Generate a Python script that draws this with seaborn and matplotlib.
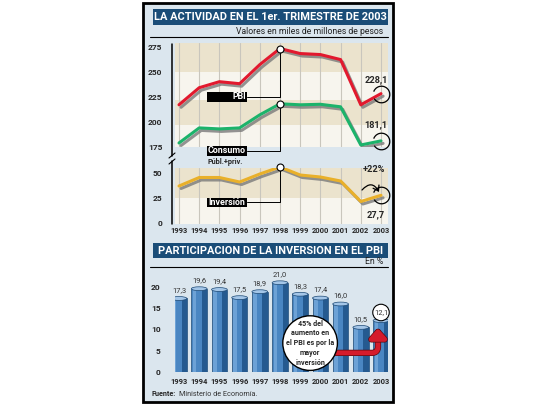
import matplotlib
matplotlib.use('Agg')
import matplotlib.pyplot as plt
import matplotlib.patheffects as pe
from matplotlib.patches import Rectangle, Ellipse
from matplotlib.path import Path
import seaborn as sns
import pandas as pd

# datos
anios = list(range(1993, 2004))
pbi = [217, 234, 240, 238, 257, 273, 268, 267, 262, 217, 228.1]
consumo = [179, 194, 193, 194, 207, 218, 217, 217.5, 215, 177, 181.1]
inversion = [37, 45.5, 45.5, 41, 49, 56, 48, 46, 42, 21.5, 27.7]
participacion = [17.3, 19.6, 19.4, 17.5, 18.9, 21.0, 18.3, 17.4, 16.0, 10.5, 12.1]

sns.set_theme(style='white')
plt.rcParams['font.family'] = ['Roboto', 'DejaVu Sans']

df = pd.DataFrame({'anio': anios, 'PBI': pbi, 'Consumo': consumo, 'Inversion': inversion})
df_bar = pd.DataFrame({'anio': [str(a) for a in anios], 'part': participacion})

ROJO = '#e2192e'
VERDE = '#1cb36b'
AMARILLO = '#e9b02a'
AZUL_T = '#1a4d78'
BEIGE = '#ebe3cd'
BLANCO = '#f7f5ee'

W, H = 540, 405
fig = plt.figure(figsize=(5.4, 4.05), dpi=100, facecolor='white')


def px_axes(x0, y0, x1, y1, z):
    ax = fig.add_axes([x0 / W, 1 - y1 / H, (x1 - x0) / W, (y1 - y0) / H])
    ax.set_zorder(z)
    return ax


bg = px_axes(0, 0, W, H, 0)
bg.set_xlim(0, W)
bg.set_ylim(H, 0)
bg.axis('off')

bg.add_patch(Rectangle((143, 3), 250, 399, fc='#dbe6ee', ec='black', lw=2))
bg.add_patch(Rectangle((153, 9), 235, 16, fc=AZUL_T, ec='none'))
bg.text(270.5, 17.5, 'LA ACTIVIDAD EN EL 1er. TRIMESTRE DE 2003', color='white',
        fontsize=7.9, fontweight='bold', ha='center', va='center')
bg.text(383, 31, 'Valores en miles de millones de pesos', fontsize=6.2, ha='right', va='center', color='#222')
bg.plot([150, 388], [37, 37], color='black', lw=0.8)

bg.add_patch(Rectangle((153, 243), 235, 15, fc=AZUL_T, ec='none'))
bg.text(270.5, 250.5, 'PARTICIPACION DE LA INVERSION EN EL PBI', color='white',
        fontsize=7.9, fontweight='bold', ha='center', va='center')
bg.text(383, 262, 'En %', fontsize=6.2, ha='right', va='center', color='#222')
bg.plot([150, 388], [267, 267], color='black', lw=0.8)
fuente = bg.text(152, 394, 'Fuente:', fontsize=5.2, fontweight='bold', ha='left', va='center')
bg.annotate('Ministerio de Economía.', xy=(1, 0.5), xycoords=fuente, xytext=(2, 0),
            textcoords='offset points', fontsize=5.2, ha='left', va='center', color='#333')

# eje vertical con corte
bg.plot([172, 172], [44, 156], color='black', lw=1.1)
bg.plot([172, 172], [161, 224], color='black', lw=1.1)
bg.plot([169, 175], [158, 153], color='black', lw=0.8)
bg.plot([169, 175], [164, 159], color='black', lw=0.8)

XL = (1993 - 4 / 20.2, 2003 + 7 / 20.2)
sombra = [pe.SimpleLineShadow(offset=(1.5, -1.8), shadow_color='#7a7a7a', alpha=0.8), pe.Normal()]

# ---- panel superior: PBI y consumo
ax_top = px_axes(175, 43, 388, 147, 2)
ax_top.set_facecolor(BLANCO)
ax_top.axhspan(250, 280, color=BEIGE, lw=0, zorder=0)
ax_top.axhspan(197, 222, color=BEIGE, lw=0, zorder=0)
sns.lineplot(data=df, x='anio', y='PBI', ax=ax_top, color=ROJO, lw=2.2, path_effects=sombra)
sns.lineplot(data=df, x='anio', y='Consumo', ax=ax_top, color=VERDE, lw=2.2, path_effects=sombra)
ax_top.set_xlim(*XL)
ax_top.set_ylim(175, 278.5)
ax_top.set_xticks(anios)
ax_top.set_xticklabels([])
ax_top.set_yticks([175, 200, 225, 250, 275])
ax_top.grid(axis='x', color='#c9c6bd', lw=0.8)
ax_top.tick_params(axis='both', length=0, labelsize=6, pad=9)
for t in ax_top.get_yticklabels():
    t.set_fontweight('bold')
for s in ax_top.spines.values():
    s.set_visible(False)
ax_top.set_xlabel('')
ax_top.set_ylabel('')

i98 = anios.index(1998)
for serie, ly, txt in [(pbi, 224.8, 'PBI'), (consumo, 171.3, 'Consumo')]:
    ax_top.plot([1996.37, 1998, 1998], [ly, ly, serie[i98]], color='black', lw=0.7, clip_on=False, zorder=5)
    ax_top.plot([1998], [serie[i98]], 'o', ms=5, mfc='white', mec='black', mew=0.8, zorder=7, clip_on=False)
    ax_top.add_patch(Rectangle((1994.39, ly - 4.8), 1.98, 9.6, fc='black', ec='none', clip_on=False, zorder=6))
    ax_top.text(1996.3, ly, txt, color='white', fontsize=6.4, fontweight='bold', ha='right', va='center',
                zorder=8, clip_on=False)
ax_top.text(1994.42, 160.3, 'Públ.+priv.', fontsize=5.2, fontweight='bold', ha='left', va='center', clip_on=False)

arco = Path.arc(-150, 160)
ax_top.plot([2003], [pbi[-1]], marker=arco, ms=12, mfc='none', mec='black', mew=0.9, clip_on=False, zorder=7)
ax_top.plot([2003], [consumo[-1]], marker=arco, ms=12, mfc='none', mec='black', mew=0.9, clip_on=False, zorder=7)
ax_top.text(2002.75, 241.7, '228,1', fontsize=6.6, fontweight='bold', ha='center', va='center')
ax_top.text(2002.75, 197.6, '181,1', fontsize=6.6, fontweight='bold', ha='center', va='center')

# ---- panel inferior: inversion
ax_inv = px_axes(175, 168, 388, 224, 2)
ax_inv.set_facecolor(BLANCO)
ax_inv.axhspan(25, 56, color=BEIGE, lw=0, zorder=0)
sns.lineplot(data=df, x='anio', y='Inversion', ax=ax_inv, color=AMARILLO, lw=2.2, path_effects=sombra)
ax_inv.set_xlim(*XL)
ax_inv.set_ylim(-1, 55)
ax_inv.set_xticks(anios)
ax_inv.set_xticklabels([str(a) for a in anios])
ax_inv.set_yticks([0, 25, 50])
ax_inv.grid(axis='x', color='#c9c6bd', lw=0.8)
ax_inv.tick_params(axis='y', length=0, labelsize=6, pad=9)
ax_inv.tick_params(axis='x', length=0, labelsize=5.4, pad=2)
for t in ax_inv.get_yticklabels() + ax_inv.get_xticklabels():
    t.set_fontweight('bold')
for s in ax_inv.spines.values():
    s.set_visible(False)
ax_inv.set_xlabel('')
ax_inv.set_ylabel('')

ax_inv.plot([1996.37, 1998, 1998], [20.5, 20.5, inversion[i98]], color='black', lw=0.7, zorder=5)
ax_inv.plot([1998], [inversion[i98]], 'o', ms=5, mfc='white', mec='black', mew=0.8, zorder=7, clip_on=False)
ax_inv.add_patch(Rectangle((1994.39, 16), 1.98, 9.2, fc='black', ec='none', zorder=6))
ax_inv.text(1996.3, 20.5, 'Inversión', color='white', fontsize=6.4, fontweight='bold', ha='right', va='center', zorder=8)
ax_inv.plot([2003], [inversion[-1]], marker=arco, ms=12, mfc='none', mec='black', mew=0.9, clip_on=False, zorder=7)
ax_inv.text(2002.65, 53, '+22%', fontsize=6.6, fontweight='bold', ha='center', va='center', clip_on=False)
ax_inv.text(2002.75, 8, '27,7', fontsize=6.6, fontweight='bold', ha='center', va='center')
ax_inv.annotate('', xy=(2002.9, 31), xytext=(2002.06, 33),
                arrowprops=dict(arrowstyle='->,head_length=0.3,head_width=0.2', lw=0.9, color='black',
                                connectionstyle='arc3,rad=-0.7', shrinkA=0, shrinkB=0), annotation_clip=False)

# ---- barras: participacion de la inversion
ax_bar = px_axes(175, 270, 388, 372, 2)
ax_bar.patch.set_visible(False)
sns.barplot(data=df_bar, x='anio', y='part', ax=ax_bar, color='#4a86c2', width=0.78, saturation=1)
ax_bar.set_xlim(XL[0] - 1993, XL[1] - 1993)
ax_bar.set_ylim(0, 24)
ax_bar.set_yticks([0, 5, 10, 15, 20])
ax_bar.tick_params(axis='y', length=0, labelsize=6, pad=10.5)
ax_bar.tick_params(axis='x', length=0, labelsize=5.4, pad=4.5)
for t in ax_bar.get_yticklabels() + ax_bar.get_xticklabels():
    t.set_fontweight('bold')
for s in ax_bar.spines.values():
    s.set_visible(False)
ax_bar.set_xlabel('')
ax_bar.set_ylabel('')

for p, v in zip(list(ax_bar.patches), participacion):
    x0, w, h = p.get_x(), p.get_width(), p.get_height()
    p.set_edgecolor('#1c4874')
    p.set_linewidth(0.5)
    ax_bar.add_patch(Rectangle((x0 + w * 0.66, 0), w * 0.34, h, fc='#255a90', ec='none', zorder=3))
    ax_bar.add_patch(Rectangle((x0 + w * 0.1, 0), w * 0.22, h, fc='#6da2d6', ec='none', zorder=3))
    ax_bar.add_patch(Ellipse((x0 + w / 2, h), w, 0.9, fc='#a4c6e8', ec='#1c4874', lw=0.5, zorder=4))
    etiqueta = f'{v:.1f}'.replace('.', ',')
    if v == participacion[-1]:
        ax_bar.text(x0 + w / 2, h + 1.9, etiqueta, fontsize=5.4, ha='center', va='center', color='#333',
                    zorder=6, bbox=dict(boxstyle='circle,pad=0.15', fc='white', ec='black', lw=0.8))
    else:
        ax_bar.text(x0 + w / 2, h + 1.9, etiqueta, fontsize=5.4, ha='center', va='center', color='#333', zorder=6)

ax_bar.annotate('', xy=(9.85, 10.3), xytext=(7.75, 4.5),
                arrowprops=dict(arrowstyle='-|>,head_length=0.45,head_width=0.4', lw=3.5, color='#d51b2b',
                                connectionstyle='angle,angleA=0,angleB=90,rad=6', shrinkA=0, shrinkB=0,
                                path_effects=[pe.Stroke(linewidth=4.5, foreground='#5a0a10'), pe.Normal()]),
                zorder=7)
ax_bar.text(6.49, 6.8, '45% del\naumento en\nel PBI es por la\nmayor\ninversión', fontsize=5.1,
            fontweight='bold', ha='center', va='center', linespacing=1.3, zorder=8,
            bbox=dict(boxstyle='circle,pad=0.45', fc='white', ec='black', lw=1))

fig.savefig('out.png', dpi=100, facecolor='white')
